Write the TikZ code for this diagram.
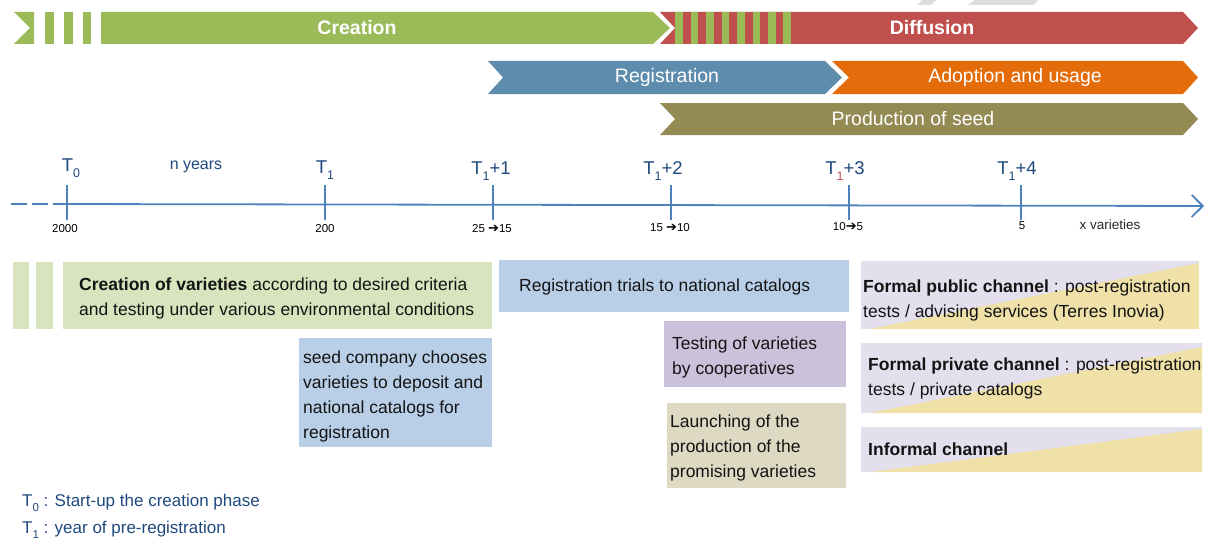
\documentclass[tikz,border=0pt]{standalone}
\usepackage{fontspec}
\setmainfont{Liberation Sans}
\newfontfamily\djv{DejaVu Sans}
\usetikzlibrary{arrows.meta,calc}
\definecolor{cgreen}{HTML}{9BBB59}
\definecolor{cred}{HTML}{C0504D}
\definecolor{cblue}{HTML}{5E8CAC}
\definecolor{corange}{HTML}{E46C0A}
\definecolor{colive}{HTML}{948A54}
\definecolor{axisblue}{HTML}{4F81BD}
\definecolor{tblue}{HTML}{1F497D}
\definecolor{lgreen}{HTML}{D7E4BD}
\definecolor{lblue}{HTML}{B9CFE7}
\definecolor{lpurple}{HTML}{CCC1DA}
\definecolor{ltan}{HTML}{DDD9C3}
\definecolor{lav}{HTML}{E4DFEC}
\definecolor{lyel}{HTML}{EFE1A7}
\definecolor{faint}{HTML}{DDDDDD}
\newcommand\sbs[1]{\raisebox{-0.3em}{\fontsize{12.5}{12.5}\selectfont #1}}
\newcommand\lsbs[1]{\raisebox{-0.3em}{\fontsize{11.5}{11.5}\selectfont #1}}
\newcommand\rarr{{\djv\fontsize{13}{13}\selectfont ➔}}
\begin{document}
\begin{tikzpicture}[x=1pt,y=-1pt,
  head/.style={text=white,font=\fontsize{19.5}{22}\selectfont,inner sep=0},
  headb/.style={head,font=\fontsize{19.5}{22}\selectfont\bfseries},
  txt/.style={font=\fontsize{17.5}{25}\selectfont,inner sep=0,align=left,anchor=north west,text=black!92},
  panel/.style={inner sep=0,anchor=north west},
  tlab/.style={text=tblue,font=\fontsize{18.5}{20}\selectfont,inner sep=0},
  num/.style={text=black,font=\fontsize{11.5}{13}\selectfont,inner sep=0},
  axisline/.style={draw=axisblue,line width=1.8pt},
  tick/.style={draw=axisblue,line width=1.8pt},
  legend/.style={text=tblue,font=\fontsize{17}{20}\selectfont,inner sep=0,anchor=west}]
\useasboundingbox (0,0) rectangle (1209,543);

% faint shapes at top edge
\fill[faint] (922,0) -- (936,0) -- (931,5) -- (917,5) -- cycle;
\fill[faint] (975,0) -- (1038,0) -- (1034,5) -- (968,5) -- cycle;

% ---- top row: Creation / Diffusion
\fill[cgreen] (14,12) -- (34,12) -- (34,44) -- (14,44) -- (30,28) -- cycle;
\fill[cgreen] (45,12) rectangle (54,44);
\fill[cgreen] (64,12) rectangle (73,44);
\fill[cgreen] (83,12) rectangle (91,44);
\fill[cgreen] (101,12) -- (653,12) -- (670,28) -- (653,44) -- (101,44) -- cycle;
\begin{scope}
  \clip (660,12) -- (1183,12) -- (1198,28) -- (1183,44) -- (660,44) -- (675,28) -- cycle;
  \fill[cred] (655,10) rectangle (1200,46);
  \foreach \sx in {675,690.5,706,721.5,737,752.5,768,783}
    \fill[cgreen] (\sx,10) rectangle (\sx+7.5,46);
\end{scope}
\node[headb] (creation) at (357,28) {Creation};
\node[headb] (diffusion) at (932,28) {Diffusion};

% ---- second row
\fill[cblue] (488,61) -- (825,61) -- (842,77.5) -- (825,94) -- (488,94) -- (503,77.5) -- cycle;
\fill[corange] (832,61) -- (1183,61) -- (1198,77.5) -- (1183,94) -- (832,94) -- (849,77.5) -- cycle;
\node[head] (registration) at (667,77.5) {Registration};
\node[head] (adoption) at (1015,77.5) {Adoption and usage};

% ---- third row
\fill[colive] (660,103) -- (1183,103) -- (1198,119) -- (1183,135) -- (660,135) -- (675,119) -- cycle;
\node[head] (production) at (913,119) {Production of seed};

% ---- time axis
\coordinate (ax0) at (11,204);
\coordinate (ax1) at (55,204);
\coordinate (axend) at (1204,206);
\draw[axisline,dash pattern=on 16pt off 5pt] (ax0) -- (ax1);
\draw[axisline,-{Straight Barb[length=11pt,width=22pt,line width=1.8pt]}] (ax1) -- (axend);

\foreach \n/\x in {t0/67,t1/325,t2/493,t3/671,t4/849,t5/1021}{
  \coordinate (\n top) at (\x,185);
  \coordinate (\n bot) at (\x,220);
  \draw[tick] (\n top) -- (\n bot);
}
\node[tlab] (T0) at (71,168) {T\sbs{0}};
\node[tlab] (T1) at (325,170) {T\sbs{1}};
\node[tlab] (T1p1) at (491,171) {T\sbs{1}+1};
\node[tlab] (T1p2) at (663,171) {T\sbs{1}+2};
\node[tlab] (T1p3) at (845,171) {T\sbs{\color{cred}1}+3};
\node[tlab] (T1p4) at (1017,171) {T\sbs{1}+4};
\node[text=tblue,font=\fontsize{16}{18}\selectfont,inner sep=0] (nyears) at (196,167) {n years};

\node[num] (n2000) at (65,229) {2000};
\node[num] (n200) at (325,229) {200};
\node[num] (n25) at (492,229) {25 \rarr15};
\node[num] (n15) at (670,228) {15 \rarr10};
\node[num] (n10) at (848,227) {10\rarr5};
\node[num] (n5) at (1022,226) {5};
\node[text=black!85,font=\fontsize{13.5}{15}\selectfont,inner sep=0] (xvar) at (1110,225) {x varieties};

% ---- panels
\node[panel,fill=lgreen,minimum width=16pt,minimum height=67pt] (s1) at (13,262) {};
\node[panel,fill=lgreen,minimum width=17pt,minimum height=67pt] (s2) at (36,262) {};
\node[panel,fill=lgreen,minimum width=429pt,minimum height=67pt] (cbox) at (63,262) {};
\node[txt] (ctext) at ($(cbox.north west)+(16,15.5)$) {\textbf{Creation of varieties} according to desired criteria\\and testing under various environmental conditions};

\node[panel,fill=lblue,minimum width=193pt,minimum height=109pt] (seedbox) at (299,338) {};
\node[txt] (seedtext) at ($(seedbox.north west)+(4,12.5)$) {seed company chooses\\varieties to deposit and\\national catalogs for\\registration};

\node[panel,fill=lblue,minimum width=350pt,minimum height=52pt] (regbox) at (499,260) {};
\node[txt] (regtext) at ($(regbox.north west)+(20,18.5)$) {Registration trials to national catalogs};

\node[panel,fill=lpurple,minimum width=182pt,minimum height=66pt] (testbox) at (664,321) {};
\node[txt] (testtext) at ($(testbox.north west)+(8,15.5)$) {Testing of varieties\\by cooperatives};

\node[panel,fill=ltan,minimum width=179pt,minimum height=85pt] (launchbox) at (667,403) {};
\node[txt] (launchtext) at ($(launchbox.north west)+(3,11.5)$) {Launching of the\\production of the\\promising varieties};

% channel panels with diagonal two-tone fill
\node[panel,fill=lav,minimum width=338pt,minimum height=68pt] (pubbox) at (861,261) {};
\fill[lyel] (870,329) -- (1199,263) -- (1199,329) -- cycle;
\node[txt] (pubtext) at ($(pubbox.north west)+(2,18.5)$) {\textbf{Formal public channel} : post-registration\\tests / advising services (Terres Inovia)};

\node[panel,fill=lav,minimum width=341pt,minimum height=70pt] (privbox) at (861,343) {};
\fill[lyel] (870,413) -- (1202,347) -- (1202,413) -- cycle;
\node[txt] (privtext) at ($(privbox.north west)+(7,14.5)$) {\textbf{Formal private channel} : post-registration\\tests / private catalogs};

\node[panel,fill=lav,minimum width=341pt,minimum height=45pt] (infbox) at (861,427) {};
\fill[lyel] (870,472) -- (1202,429) -- (1202,472) -- cycle;
\node[txt] (inftext) at ($(infbox.north west)+(7,15.5)$) {\textbf{Informal channel}};

% ---- legend
\node[legend] (leg0) at (22,503) {T\lsbs{0} : Start-up the creation phase};
\node[legend] (leg1) at (22,530) {T\lsbs{1} : year of pre-registration};
\end{tikzpicture}
\end{document}
